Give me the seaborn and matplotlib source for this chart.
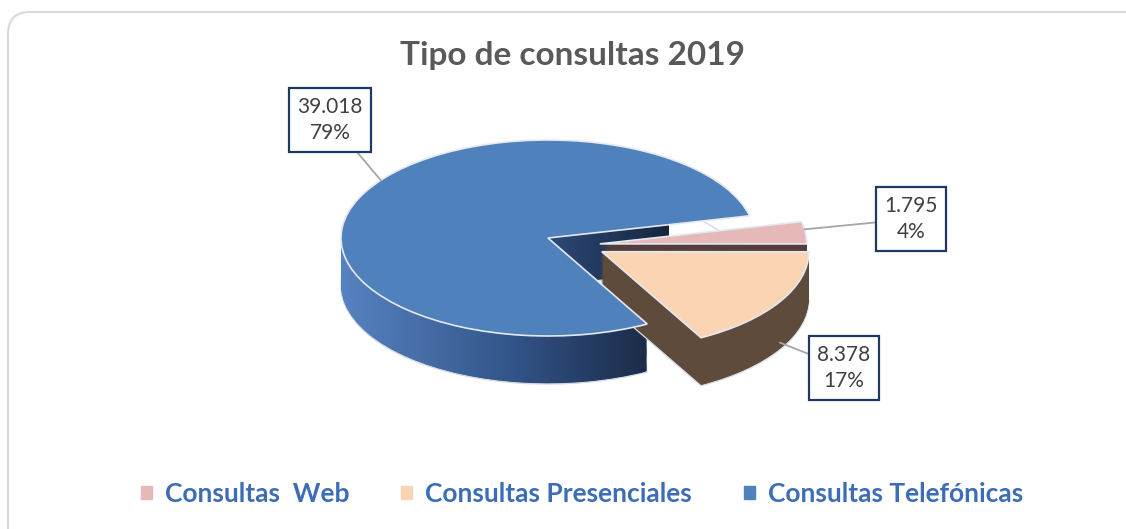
import numpy as np
import matplotlib
matplotlib.use("Agg")
import matplotlib.pyplot as plt
import seaborn as sns
from matplotlib.colors import LinearSegmentedColormap
from matplotlib.patches import FancyBboxPatch, Patch
from matplotlib.transforms import IdentityTransform

# Datos
categorias = ["Consultas  Web", "Consultas Presenciales", "Consultas Telefónicas"]
consultas = [1795, 8378, 39018]

# Estilo
colores_sup = ["#E6B9B8", "#FBD4B4", "#4F81BD"]
colores_lat = ["#533D3D", "#5E4B3C", "#2A4470"]
desplaz = [(0.25, -0.06), (0.26, -0.14), (0.0, 0.0)]  # separacion de porciones (x, y)
orden_z = [1.5, 2.0, 1.0]   # web, presenciales, telefonicas (atras -> delante)
angulo_ini = 13.1
profundidad = 0.49
capas = 45

sns.set_theme(style="white")
plt.rcParams["font.family"] = ["Lato", "DejaVu Sans"]

fig = plt.figure(figsize=(11.26, 5.29), dpi=100)
ax = fig.add_axes([0, 0, 1, 1])

# Marco redondeado de fondo
fig.patches.append(FancyBboxPatch((8, -60), 1180, 577, boxstyle="round,pad=0,rounding_size=22",
                                  transform=IdentityTransform(), fc="white", ec="#d9d9d9", lw=1.5,
                                  zorder=-5))


def separar(wedges):
    for w, (dx, dy) in zip(wedges, desplaz):
        cx, cy = w.center
        w.set_center((cx + dx, cy + dy))


grad = np.linspace(0, 1, 256).reshape(1, -1)
cmap_azul = LinearSegmentedColormap.from_list("lat", ["#5784C2", "#34578C", "#17253F"])

# Laterales (pila de tartas desplazadas hacia abajo)
for i, d in enumerate(np.linspace(profundidad, 0.01, capas)):
    wedges, _ = ax.pie(consultas, colors=colores_lat, startangle=angulo_ini,
                       counterclock=False, center=(0, -d),
                       wedgeprops=dict(linewidth=1 if i == 0 else 0,
                                       edgecolor="#d5dbe3" if i == 0 else "none"))
    separar(wedges)
    for k, w in enumerate(wedges):
        w.set_zorder(orden_z[k] + i * 0.001 + 0.0005)
    azul = wedges[2]
    azul.set_facecolor("none")
    im = ax.imshow(grad, cmap=cmap_azul, extent=(-1.02, 0.58, -1.8, 1.1), aspect="auto",
                   zorder=orden_z[2] + i * 0.001, interpolation="bilinear")
    im.set_clip_path(azul)

# Cara superior
top, _ = ax.pie(consultas, colors=colores_sup, startangle=angulo_ini,
                counterclock=False, center=(0, 0),
                wedgeprops=dict(linewidth=1.2, edgecolor="#e4e9f0"))
separar(top)
for w in top:
    w.set_zorder(3)

# Etiquetas de datos
total = sum(consultas)
pos_txt = [(911, 219), (844, 368), (330, 120)]
giro = [2, 0, -12]
bajar = [0, 0.85, 0]
for i, w in enumerate(top):
    ang = np.deg2rad((w.theta1 + w.theta2) / 2 + giro[i])
    cx, cy = w.center
    x = cx + w.r * np.cos(ang)
    y = cy + w.r * np.sin(ang) - profundidad * bajar[i]
    txt = f"{consultas[i]:,}".replace(",", ".") + "\n" + f"{consultas[i] / total * 100:.0f}%"
    px, py = pos_txt[i]
    ax.annotate(txt, xy=(x, y), xytext=(px / 1126, 1 - py / 529), textcoords="figure fraction",
                ha="center", va="center", fontsize=15, color="#404040", linespacing=1.4,
                bbox=dict(boxstyle="square,pad=0.42", fc="white", ec="#1F3864", lw=1.6),
                arrowprops=dict(arrowstyle="-", color="#a6a6a6", lw=1.3, shrinkA=0, shrinkB=0),
                zorder=5)

ax.set_aspect("auto")
ax.set_xlim(-548 / 207, (1126 - 548) / 207)
ax.set_ylim(-(529 - 238) / 98, 238 / 98)
ax.axis("off")

fig.text(573 / 1126, 1 - 56 / 529, "Tipo de consultas 2019", ha="center", va="center",
         fontsize=24, fontweight="bold", color="#595959")

handles = [Patch(color=c) for c in colores_sup]
fig.legend(handles, categorias, loc="center", bbox_to_anchor=(582 / 1126, 1 - 494 / 529),
           ncol=3, frameon=False, handlelength=0.42, handleheight=0.42, handletextpad=0.5,
           columnspacing=1.95, labelcolor="#3D6DB5", prop=dict(size=19, weight="bold"))

fig.savefig("out.png", dpi=100, facecolor="white")
